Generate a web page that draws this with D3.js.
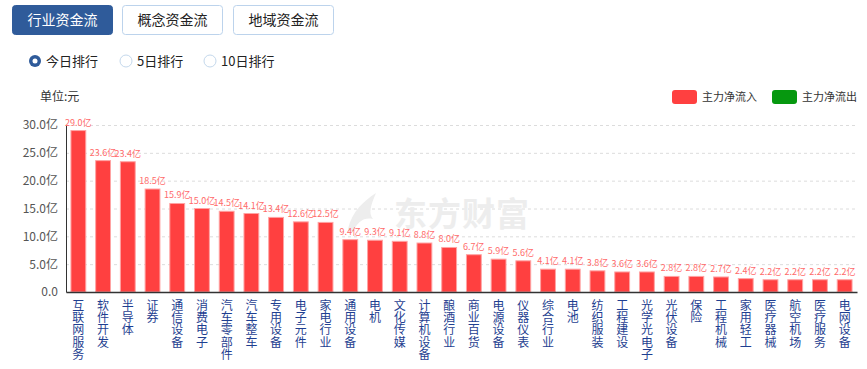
<!DOCTYPE html>
<html>
<head>
<meta charset="utf-8">
<script src="https://cdn.jsdelivr.net/npm/d3@7"></script>
<style>
  body { margin: 0; background: #fff; font-family: "Noto Sans CJK SC", "Noto Sans", sans-serif; }
  .chart { width: 867px; height: 369px; position: relative; }
</style>
</head>
<body>
<div class="chart"></div>
<script>
// Data (units: 亿元)
var industries = ["互联网服务", "软件开发", "半导体", "证券", "通信设备", "消费电子", "汽车零部件", "汽车整车",
  "专用设备", "电子元件", "家电行业", "通用设备", "电机", "文化传媒", "计算机设备", "酿酒行业",
  "商业百货", "电源设备", "仪器仪表", "综合行业", "电池", "纺织服装", "工程建设", "光学光电子",
  "光伏设备", "保险", "工程机械", "家用轻工", "医疗器械", "航空机场", "医疗服务", "电网设备"];
var netInflow = [29.0, 23.6, 23.4, 18.5, 15.9, 15.0, 14.5, 14.1, 13.4, 12.6, 12.5, 9.4, 9.3, 9.1, 8.8, 8.0,
  6.7, 5.9, 5.6, 4.1, 4.1, 3.8, 3.6, 3.6, 2.8, 2.8, 2.7, 2.4, 2.2, 2.2, 2.2, 2.2];
var yTicks = [0, 5, 10, 15, 20, 25, 30];
var tabs = ["行业资金流", "概念资金流", "地域资金流"];
var ranks = ["今日排行", "5日排行", "10日排行"];
var legendItems = ["主力净流入", "主力净流出"];

var svgWidth = 867;
var svgHeight = 369;
var margin = {top: 125, right: 10, bottom: 77, left: 66};
var width = svgWidth - margin.left - margin.right;
var height = svgHeight - margin.top - margin.bottom;

var svg = d3.select(".chart").append("svg")
  .attr("width", svgWidth)
  .attr("height", svgHeight);

// Tab buttons
var tabX = [12, 122, 233];
tabs.forEach(function(t, i) {
  var g = svg.append("g").attr("transform", "translate(" + tabX[i] + ",5)");
  g.append("rect")
    .attr("x", 0.5).attr("y", 0.5)
    .attr("width", 100).attr("height", 29)
    .attr("rx", 3)
    .attr("fill", i === 0 ? "#2f5b9a" : "#fff")
    .attr("stroke", i === 0 ? "#2f5b9a" : "#bcd3ec");
  g.append("text")
    .attr("x", 50.5).attr("y", 20)
    .attr("text-anchor", "middle")
    .attr("font-size", 14)
    .attr("fill", i === 0 ? "#fff" : "#222")
    .text(t);
});

// Radio options
var radioX = [35, 126, 210];
ranks.forEach(function(r, i) {
  var g = svg.append("g").attr("transform", "translate(" + radioX[i] + ",61)");
  if (i === 0) {
    g.append("circle").attr("r", 6).attr("fill", "#2f5b9a");
    g.append("circle").attr("r", 2.5).attr("fill", "#fff");
  } else {
    g.append("circle").attr("r", 6).attr("fill", "#fff").attr("stroke", "#c4d8ec");
  }
  g.append("text")
    .attr("x", 11).attr("y", 5)
    .attr("font-size", 13)
    .attr("fill", "#222")
    .text(r);
});

// Unit label
svg.append("text")
  .attr("x", 40).attr("y", 101)
  .attr("font-size", 12)
  .attr("fill", "#333")
  .text("单位:元");

// Legend
var legendColors = ["#ff4040", "#06980f"];
var legendX = [672, 772];
legendItems.forEach(function(l, i) {
  svg.append("rect")
    .attr("x", legendX[i]).attr("y", 90)
    .attr("width", 25).attr("height", 14)
    .attr("rx", 3)
    .attr("fill", legendColors[i]);
  svg.append("text")
    .attr("x", legendX[i] + 30).attr("y", 101)
    .attr("font-size", 11)
    .attr("fill", "#333")
    .text(l);
});

var chart = svg.append("g")
  .attr("transform", "translate(" + margin.left + "," + margin.top + ")");

var x = d3.scaleBand().domain(industries).range([0, width]).paddingInner(0.4).paddingOuter(0.2);
var y = d3.scaleLinear().domain([0, 30]).range([height, 0]);

// Grid lines
chart.append("g").selectAll("line")
  .data(yTicks.filter(function(d) { return d > 0; }))
  .enter().append("line")
  .attr("x1", 0).attr("x2", width)
  .attr("y1", function(d) { return y(d) + 0.5; })
  .attr("y2", function(d) { return y(d) + 0.5; })
  .attr("stroke", "#dcdcdc")
  .attr("stroke-dasharray", "3,3");

// Watermark
var wm = chart.append("g").attr("transform", "translate(280,72)").attr("fill", "#ededed");
wm.append("path")
  .attr("d", "M 2 32 C 6 14 18 4 30 -4 C 25 8 22 16 27 22 C 18 20 12 24 6 36 Z");
wm.append("text")
  .attr("x", 48).attr("y", 29)
  .attr("font-size", 33)
  .attr("font-weight", "bold")
  .attr("letter-spacing", 1)
  .text("东方财富");

// Y axis labels
var leftAxis = d3.axisLeft(y).tickValues(yTicks).tickSize(0).tickPadding(8)
  .tickFormat(function(d) { return d === 0 ? "0.0" : d.toFixed(1) + "亿"; });
var yAxis = chart.append("g").call(leftAxis);
yAxis.select(".domain").attr("stroke", "#333");
yAxis.selectAll("text")
  .attr("font-size", 12)
  .attr("fill", "#555")
  .attr("font-family", "'Noto Sans CJK SC', sans-serif");

// Bars
chart.selectAll(".bar")
  .data(netInflow)
  .enter().append("rect")
  .attr("class", "bar")
  .attr("x", function(d, i) { return x(industries[i]); })
  .attr("y", function(d) { return y(d); })
  .attr("width", x.bandwidth())
  .attr("height", function(d) { return height - y(d); })
  .attr("fill", "#ff4040")
  .attr("stroke", "#ffa3a3")
  .attr("stroke-width", 1);

// Value labels
chart.selectAll(".val")
  .data(netInflow)
  .enter().append("text")
  .attr("class", "val")
  .attr("x", function(d, i) { return x(industries[i]) + x.bandwidth() / 2; })
  .attr("y", function(d) { return y(d) - 5; })
  .attr("text-anchor", "middle")
  .attr("font-size", 9)
  .attr("fill", "#ff6a6a")
  .text(function(d) { return d.toFixed(1) + "亿"; });

// X axis
var bottomAxis = d3.axisBottom(x).tickSize(0).tickFormat("");
var xAxis = chart.append("g")
  .attr("transform", "translate(0," + height + ")")
  .call(bottomAxis);
xAxis.select(".domain").attr("stroke", "#333").attr("stroke-width", 1.5);

// Vertical category labels, one character per line
var labels = chart.selectAll(".cat")
  .data(industries)
  .enter().append("text")
  .attr("class", "cat")
  .attr("text-anchor", "middle")
  .attr("font-size", 12)
  .attr("fill", "#1f3f91");
labels.each(function(name) {
  var t = d3.select(this);
  var cx = x(name) + x.bandwidth() / 2;
  name.split("").forEach(function(ch, k) {
    t.append("tspan")
      .attr("x", cx)
      .attr("y", height + 18 + k * 12.2)
      .text(ch);
  });
});
</script>
</body>
</html>
